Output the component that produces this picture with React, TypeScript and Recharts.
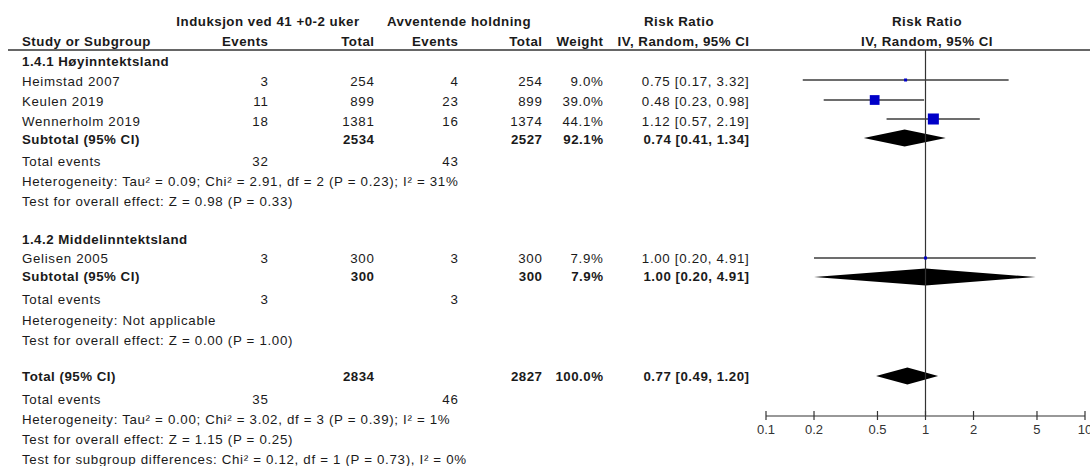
import React from 'react';
import { ComposedChart, XAxis, YAxis, Scatter, Area, ReferenceLine } from 'recharts';

// ---------- data ----------
const studyNames = ['Heimstad 2007', 'Keulen 2019', 'Wennerholm 2019', 'Gelisen 2005'];
const eventsInd = [3, 11, 18, 3];
const totalInd = [254, 899, 1381, 300];
const eventsAvv = [4, 23, 16, 3];
const totalAvv = [254, 899, 1374, 300];
const weights = [9.0, 39.0, 44.1, 7.9];
const rrEst = [0.75, 0.48, 1.12, 1.0];
const rrLow = [0.17, 0.23, 0.57, 0.2];
const rrHigh = [3.32, 0.98, 2.19, 4.91];

const groupNames = ['1.4.1 Høyinntektsland', '1.4.2 Middelinntektsland'];
const subTotalInd = [2534, 300];
const subTotalAvv = [2527, 300];
const subWeight = [92.1, 7.9];
const subEst = [0.74, 1.0];
const subLow = [0.41, 0.2];
const subHigh = [1.34, 4.91];
const subEventsInd = [32, 3];
const subEventsAvv = [43, 3];
const subHeterogeneity = [
  'Heterogeneity: Tau² = 0.09; Chi² = 2.91, df = 2 (P = 0.23); I² = 31%',
  'Heterogeneity: Not applicable',
];
const subOverall = [
  'Test for overall effect: Z = 0.98 (P = 0.33)',
  'Test for overall effect: Z = 0.00 (P = 1.00)',
];

const allTotalInd = 2834;
const allTotalAvv = 2827;
const allWeight = 100.0;
const allEst = 0.77;
const allLow = 0.49;
const allHigh = 1.2;
const allEventsInd = 35;
const allEventsAvv = 46;
const allHeterogeneity = 'Heterogeneity: Tau² = 0.00; Chi² = 3.02, df = 3 (P = 0.39); I² = 1%';
const allOverall = 'Test for overall effect: Z = 1.15 (P = 0.25)';
const subgroupDiff = 'Test for subgroup differences: Chi² = 0.12, df = 1 (P = 0.73), I² = 0%';

const xTicks = [0.1, 0.2, 0.5, 1, 2, 5, 10];

// ---------- layout ----------
const W = 1090;
const H = 466;
const FONT = '"Liberation Sans", Arial, sans-serif';
const COL = { study: 22, ev1: 268.5, tot1: 374.5, ev2: 458.5, tot2: 542.5, weight: 603.5, ci: 749.5 };
const studyTextY = [81, 101, 121, 258];
const studyRow = [1.5, 2.5, 3.45, 10.4];
const groupTitleY = [61, 239];
const subtotalTextY = [139, 276];
const subtotalRow = [4.4, 11.35];
const subEventsY = [161, 299];
const subHetY = [181, 320];
const subEffectY = [201, 340];
const totalTextY = 376;
const totalRow = 16.3;
const totalEventsY = 399;
const totalHetY = 419;
const totalEffectY = 439;
const subgroupDiffY = 459;
const DH = 0.42;
const TXT = '#1a1a1a';

const fmtCI = (e: number, l: number, h: number) => `${e.toFixed(2)} [${l.toFixed(2)}, ${h.toFixed(2)}]`;
const fmtW = (w: number) => `${w.toFixed(1)}%`;

const T = ({ x, y, anchor = 'start', bold = false, children }: any) => (
  <text
    x={x}
    y={y}
    textAnchor={anchor}
    dominantBaseline="central"
    fontFamily={FONT}
    fontSize={13.3}
    fontWeight={bold ? 700 : 400}
    letterSpacing={bold ? 0.5 : 0.68}
    fill={TXT}
  >
    {children}
  </text>
);

const squarePoints = studyNames.map((n, i) => ({ x: rrEst[i], y: studyRow[i], w: weights[i] }));

const diamond = (est: number, lo: number, hi: number, row: number) => [
  { x: lo, band: [row, row] },
  { x: est, band: [row - DH, row + DH] },
  { x: hi, band: [row, row] },
];
const diamonds = [
  ...subEst.map((e, i) => diamond(e, subLow[i], subHigh[i], subtotalRow[i])),
  diamond(allEst, allLow, allHigh, totalRow),
];

const Square = (props: any) => {
  const { cx, cy, payload } = props;
  const s = Math.max(3, payload.w / 4);
  return <rect x={cx - s / 2} y={cy - s / 2} width={s} height={s} fill="#0000c8" />;
};

const Tick = (props: any) => {
  const { x, y, payload } = props;
  return (
    <g>
      <line x1={x} x2={x} y1={y - 5} y2={y + 4} stroke="#333" strokeWidth={1.2} />
      <text x={x} y={y + 13} textAnchor="middle" dominantBaseline="central" fontFamily={FONT} fontSize={13} fill="#333">
        {String(payload.value)}
      </text>
    </g>
  );
};

export default function App() {
  return (
    <div style={{ position: 'absolute', left: 0, top: 0, width: W, height: H, background: '#fff' }}>
      <div style={{ position: 'absolute', left: 0, top: 0 }}>
        <ComposedChart width={W} height={H} margin={{ top: 50, bottom: 20, left: 766, right: 5 }}>
          <XAxis
            type="number"
            dataKey="x"
            scale="log"
            domain={[0.1, 10]}
            ticks={xTicks}
            allowDataOverflow
            height={30}
            tickSize={0}
            tickMargin={0}
            tickLine={false}
            axisLine={{ stroke: '#333', strokeWidth: 1.2 }}
            tick={<Tick />}
            interval={0}
          />
          <YAxis type="number" dataKey="y" domain={[0, 18.3]} reversed hide allowDataOverflow />
          <ReferenceLine x={1} stroke="#333" strokeWidth={1.2} />
          {studyNames.map((n, i) => (
            <ReferenceLine
              key={n}
              segment={[
                { x: rrLow[i], y: studyRow[i] },
                { x: rrHigh[i], y: studyRow[i] },
              ]}
              stroke="#3c3c3c"
              strokeWidth={1.5}
            />
          ))}
          {diamonds.map((d, i) => (
            <Area
              key={i}
              data={d}
              dataKey="band"
              type="linear"
              stroke="none"
              fill="#000"
              fillOpacity={1}
              dot={false}
              activeDot={false}
              isAnimationActive={false}
            />
          ))}
          <Scatter data={squarePoints} shape={<Square />} isAnimationActive={false} />
        </ComposedChart>
      </div>
      <svg width={W} height={H} style={{ position: 'absolute', left: 0, top: 0, pointerEvents: 'none' }}>
        <T x={268} y={21} anchor="middle" bold>Induksjon ved 41 +0-2 uker</T>
        <T x={459} y={21} anchor="middle" bold>Avventende holdning</T>
        <T x={679} y={21} anchor="middle" bold>Risk Ratio</T>
        <T x={927} y={21} anchor="middle" bold>Risk Ratio</T>
        <T x={COL.study} y={41} bold>Study or Subgroup</T>
        <T x={COL.ev1} y={41} anchor="end" bold>Events</T>
        <T x={COL.tot1} y={41} anchor="end" bold>Total</T>
        <T x={COL.ev2} y={41} anchor="end" bold>Events</T>
        <T x={COL.tot2} y={41} anchor="end" bold>Total</T>
        <T x={COL.weight} y={41} anchor="end" bold>Weight</T>
        <T x={COL.ci} y={41} anchor="end" bold>IV, Random, 95% CI</T>
        <T x={927} y={41} anchor="middle" bold>IV, Random, 95% CI</T>
        <line x1={8} x2={W} y1={50} y2={50} stroke="#333" strokeWidth={1.3} />

        {groupNames.map((g, gi) => (
          <g key={g}>
            <T x={COL.study} y={groupTitleY[gi]} bold>{g}</T>
            <T x={COL.study} y={subtotalTextY[gi]} bold>Subtotal (95% CI)</T>
            <T x={COL.tot1} y={subtotalTextY[gi]} anchor="end" bold>{subTotalInd[gi]}</T>
            <T x={COL.tot2} y={subtotalTextY[gi]} anchor="end" bold>{subTotalAvv[gi]}</T>
            <T x={COL.weight} y={subtotalTextY[gi]} anchor="end" bold>{fmtW(subWeight[gi])}</T>
            <T x={COL.ci} y={subtotalTextY[gi]} anchor="end" bold>{fmtCI(subEst[gi], subLow[gi], subHigh[gi])}</T>
            <T x={COL.study} y={subEventsY[gi]}>Total events</T>
            <T x={COL.ev1} y={subEventsY[gi]} anchor="end">{subEventsInd[gi]}</T>
            <T x={COL.ev2} y={subEventsY[gi]} anchor="end">{subEventsAvv[gi]}</T>
            <T x={COL.study} y={subHetY[gi]}>{subHeterogeneity[gi]}</T>
            <T x={COL.study} y={subEffectY[gi]}>{subOverall[gi]}</T>
          </g>
        ))}

        {studyNames.map((n, i) => (
          <g key={n}>
            <T x={COL.study} y={studyTextY[i]}>{n}</T>
            <T x={COL.ev1} y={studyTextY[i]} anchor="end">{eventsInd[i]}</T>
            <T x={COL.tot1} y={studyTextY[i]} anchor="end">{totalInd[i]}</T>
            <T x={COL.ev2} y={studyTextY[i]} anchor="end">{eventsAvv[i]}</T>
            <T x={COL.tot2} y={studyTextY[i]} anchor="end">{totalAvv[i]}</T>
            <T x={COL.weight} y={studyTextY[i]} anchor="end">{fmtW(weights[i])}</T>
            <T x={COL.ci} y={studyTextY[i]} anchor="end">{fmtCI(rrEst[i], rrLow[i], rrHigh[i])}</T>
          </g>
        ))}

        <T x={COL.study} y={totalTextY} bold>Total (95% CI)</T>
        <T x={COL.tot1} y={totalTextY} anchor="end" bold>{allTotalInd}</T>
        <T x={COL.tot2} y={totalTextY} anchor="end" bold>{allTotalAvv}</T>
        <T x={COL.weight} y={totalTextY} anchor="end" bold>{fmtW(allWeight)}</T>
        <T x={COL.ci} y={totalTextY} anchor="end" bold>{fmtCI(allEst, allLow, allHigh)}</T>
        <T x={COL.study} y={totalEventsY}>Total events</T>
        <T x={COL.ev1} y={totalEventsY} anchor="end">{allEventsInd}</T>
        <T x={COL.ev2} y={totalEventsY} anchor="end">{allEventsAvv}</T>
        <T x={COL.study} y={totalHetY}>{allHeterogeneity}</T>
        <T x={COL.study} y={totalEffectY}>{allOverall}</T>
        <T x={COL.study} y={subgroupDiffY}>{subgroupDiff}</T>
      </svg>
    </div>
  );
}
